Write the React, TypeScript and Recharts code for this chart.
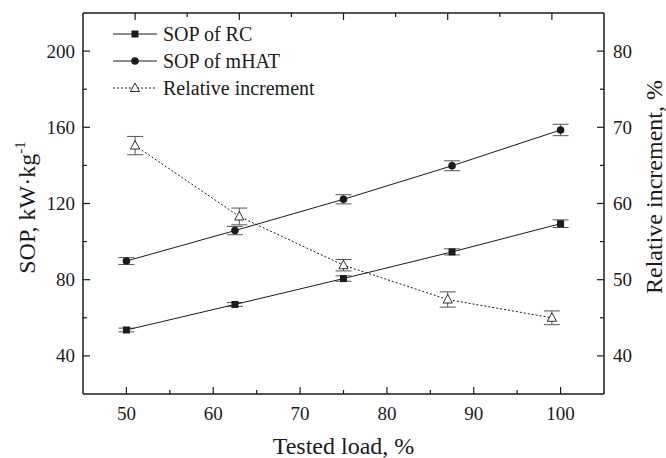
import React from "react";
import { ComposedChart, Line, XAxis, YAxis, ErrorBar, Legend } from "recharts";

const FONT = '"Liberation Serif", "DejaVu Serif", serif';
const INK = "#1b1b1b";
const txt = { fontFamily: FONT };

// SOP series share the tested loads
const loads = [50, 62.5, 75, 87.5, 100];
const sopRC = [53.6, 67.0, 80.6, 94.6, 109.4];
const sopRCErr = [1.0, 1.0, 1.4, 1.6, 2.0];
const sopHAT = [89.8, 105.8, 122.2, 139.8, 158.6];
const sopHATErr = [1.8, 2.2, 2.4, 2.6, 3.0];

// relative increment is plotted slightly offset on x
const riLoads = [51, 63, 75, 87, 99];
const relInc = [67.6, 58.3, 51.9, 47.4, 45.0];
const relIncErr = [1.2, 1.1, 0.75, 1.0, 0.9];

const xTicks = [50, 55, 60, 65, 70, 75, 80, 85, 90, 95, 100];
const topTicks = [51, 57, 63, 69, 75, 81, 87, 93, 99];
const leftTicks = [40, 60, 80, 100, 120, 140, 160, 180, 200];
const rightTicks = [40, 45, 50, 55, 60, 65, 70, 75, 80];

const rcData = loads.map((x, i) => ({ x, y: sopRC[i], err: sopRCErr[i] }));
const hatData = loads.map((x, i) => ({ x, y: sopHAT[i], err: sopHATErr[i] }));
const riData = riLoads.map((x, i) => ({ x, y: relInc[i], err: relIncErr[i] }));

const Square = ({ cx, cy }: any) => (
  <rect x={cx - 3.5} y={cy - 3.5} width={7} height={7} fill={INK} />
);
const Dot = ({ cx, cy }: any) => <circle cx={cx} cy={cy} r={3.8} fill={INK} />;
const Tri = ({ cx, cy }: any) => (
  <path
    d={`M${cx},${cy - 5} L${cx + 4.6},${cy + 3.5} L${cx - 4.6},${cy + 3.5} Z`}
    fill="#fff"
    stroke={INK}
    strokeWidth={0.9}
  />
);

const BottomTick = ({ x, y, payload }: any) => {
  const major = payload.value % 10 === 0;
  return (
    <g>
      <line x1={x} x2={x} y1={y} y2={y - (major ? 7 : 4)} stroke={INK} strokeWidth={1.2} />
      {major && (
        <text x={x} y={y + 26} textAnchor="middle" fontSize={19} style={txt} fill={INK}>
          {payload.value}
        </text>
      )}
    </g>
  );
};

const TopTick = ({ x, y, payload }: any) => {
  const major = (payload.value - 51) % 12 === 0;
  return <line x1={x} x2={x} y1={y} y2={y + (major ? 7 : 4)} stroke={INK} strokeWidth={1.2} />;
};

const LeftTick = ({ x, y, payload }: any) => {
  const major = payload.value % 40 === 0;
  return (
    <g>
      <line x1={x} x2={x + (major ? 7 : 4)} y1={y} y2={y} stroke={INK} strokeWidth={1.2} />
      {major && (
        <text x={x - 8} y={y + 6.5} textAnchor="end" fontSize={19} style={txt} fill={INK}>
          {payload.value}
        </text>
      )}
    </g>
  );
};

const RightTick = ({ x, y, payload }: any) => {
  const major = payload.value % 10 === 0;
  return (
    <g>
      <line x1={x} x2={x - (major ? 7 : 4)} y1={y} y2={y} stroke={INK} strokeWidth={1.2} />
      {major && (
        <text x={x + 9} y={y + 6.5} textAnchor="start" fontSize={19} style={txt} fill={INK}>
          {payload.value}
        </text>
      )}
    </g>
  );
};

const legendItems = [
  { name: "SOP of RC", marker: "square", dash: undefined },
  { name: "SOP of mHAT", marker: "dot", dash: undefined },
  { name: "Relative increment", marker: "tri", dash: "2 2" },
];

const renderLegend = () => (
  <svg width={240} height={90}>
    {legendItems.map((it, i) => {
      const cy = 16 + i * 27;
      return (
        <g key={it.name}>
          <line x1={5} x2={49} y1={cy} y2={cy} stroke={INK} strokeWidth={1} strokeDasharray={it.dash} />
          {it.marker === "square" && <Square cx={27} cy={cy} />}
          {it.marker === "dot" && <Dot cx={27} cy={cy} />}
          {it.marker === "tri" && <Tri cx={27} cy={cy} />}
          <text x={55} y={cy + 7} fontSize={20} style={txt} fill={INK}>
            {it.name}
          </text>
        </g>
      );
    })}
  </svg>
);

export default function App() {
  return (
    <div
      style={{
        position: "absolute",
        left: 0,
        top: 0,
        width: 666,
        height: 458,
        background: "#fff",
        fontFamily: FONT,
      }}
    >
      <ComposedChart width={666} height={458} margin={{ top: 0, right: 0, bottom: 0, left: 0 }}>
        <XAxis
          dataKey="x"
          type="number"
          domain={[45, 105]}
          allowDataOverflow
          ticks={xTicks}
          interval={0}
          tickSize={0}
          tickMargin={0}
          tick={<BottomTick />}
          tickLine={false}
          axisLine={{ stroke: INK, strokeWidth: 1.5 }}
          height={64}
          label={{
            content: ({ viewBox }: any) => (
              <text
                x={viewBox.x + viewBox.width / 2}
                y={viewBox.y + 60}
                textAnchor="middle"
                fontSize={24}
                style={txt}
                fill={INK}
              >
                Tested load, %
              </text>
            ),
          }}
        />
        <XAxis
          xAxisId="top"
          dataKey="x"
          type="number"
          orientation="top"
          domain={[45, 105]}
          allowDataOverflow
          ticks={topTicks}
          interval={0}
          tickSize={0}
          tickMargin={0}
          tick={<TopTick />}
          tickLine={false}
          axisLine={{ stroke: INK, strokeWidth: 1.5 }}
          height={13}
        />
        <YAxis
          yAxisId="left"
          type="number"
          domain={[20, 220]}
          allowDataOverflow
          ticks={leftTicks}
          interval={0}
          tickSize={0}
          tickMargin={0}
          tick={<LeftTick />}
          tickLine={false}
          axisLine={{ stroke: INK, strokeWidth: 1.5 }}
          width={83}
          label={{
            content: ({ viewBox }: any) => {
              const cx = viewBox.x + 35;
              const cy = viewBox.y + viewBox.height / 2 + 4;
              return (
                <text
                  x={cx}
                  y={cy}
                  transform={`rotate(-90, ${cx}, ${cy})`}
                  textAnchor="middle"
                  fontSize={24}
                  style={txt}
                  fill={INK}
                >
                  SOP, kW·kg
                  <tspan fontSize={15} dy={-10}>-1</tspan>
                </text>
              );
            },
          }}
        />
        <YAxis
          yAxisId="right"
          orientation="right"
          type="number"
          domain={[35, 85]}
          allowDataOverflow
          ticks={rightTicks}
          interval={0}
          tickSize={0}
          tickMargin={0}
          tick={<RightTick />}
          tickLine={false}
          axisLine={{ stroke: INK, strokeWidth: 1.5 }}
          width={62}
          label={{
            content: ({ viewBox }: any) => {
              const cx = viewBox.x + 58;
              const cy = viewBox.y + 174;
              return (
                <text
                  x={cx}
                  y={cy}
                  transform={`rotate(-90, ${cx}, ${cy})`}
                  textAnchor="middle"
                  fontSize={24}
                  style={txt}
                  fill={INK}
                >
                  Relative increment, %
                </text>
              );
            },
          }}
        />
        <Legend
          layout="vertical"
          align="center"
          verticalAlign="middle"
          content={renderLegend}
          wrapperStyle={{ left: 108, top: 18, width: 240, height: 90 }}
        />
        <Line
          data={rcData}
          yAxisId="left"
          dataKey="y"
          name="SOP of RC"
          type="linear"
          stroke={INK}
          strokeWidth={1}
          dot={(p: any) => <Square key={`rc-${p.index}`} cx={p.cx} cy={p.cy} />}
          activeDot={false}
          isAnimationActive={false}
        >
          <ErrorBar dataKey="err" width={8} stroke="#555" strokeWidth={1} direction="y" isAnimationActive={false} />
        </Line>
        <Line
          data={hatData}
          yAxisId="left"
          dataKey="y"
          name="SOP of mHAT"
          type="linear"
          stroke={INK}
          strokeWidth={1}
          dot={(p: any) => <Dot key={`hat-${p.index}`} cx={p.cx} cy={p.cy} />}
          activeDot={false}
          isAnimationActive={false}
        >
          <ErrorBar dataKey="err" width={8} stroke="#555" strokeWidth={1} direction="y" isAnimationActive={false} />
        </Line>
        <Line
          data={riData}
          yAxisId="right"
          dataKey="y"
          name="Relative increment"
          type="linear"
          stroke={INK}
          strokeWidth={1}
          strokeDasharray="2 2"
          dot={(p: any) => <Tri key={`ri-${p.index}`} cx={p.cx} cy={p.cy} />}
          activeDot={false}
          isAnimationActive={false}
        >
          <ErrorBar dataKey="err" width={8} stroke="#555" strokeWidth={1} direction="y" isAnimationActive={false} />
        </Line>
      </ComposedChart>
    </div>
  );
}
